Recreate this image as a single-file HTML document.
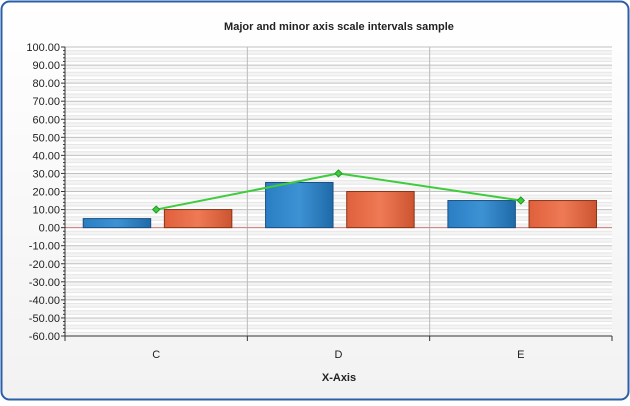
<!DOCTYPE html>
<html><head><style>
body{margin:0;background:#fff;font-family:"Liberation Sans",sans-serif}
</style></head><body>
<svg width="630" height="401" xmlns="http://www.w3.org/2000/svg">
<defs>
<linearGradient id="bg" x1="0" y1="0" x2="0" y2="1"><stop offset="0" stop-color="#fff"/><stop offset="1" stop-color="#f2f2f2"/></linearGradient>
<linearGradient id="gb" x1="0" y1="0" x2="1" y2="0"><stop offset="0" stop-color="#2a7fc4"/><stop offset="0.5" stop-color="#3d92d4"/><stop offset="1" stop-color="#1f6aa8"/></linearGradient>
<linearGradient id="go" x1="0" y1="0" x2="1" y2="0"><stop offset="0" stop-color="#e0603c"/><stop offset="0.5" stop-color="#ee7a55"/><stop offset="1" stop-color="#cc5530"/></linearGradient>
</defs>
<rect x="1.5" y="1.5" width="627" height="398" rx="8" fill="url(#bg)" stroke="#2b5fa8" stroke-width="2"/>
<text x="339" y="30" text-anchor="middle" font-size="11" font-weight="bold" fill="#222">Major and minor axis scale intervals sample</text>
<g id="plot"></g>
<text x="339" y="381" text-anchor="middle" font-size="11" font-weight="bold" fill="#222">X-Axis</text>
</svg>
<script>
const categories=["C","D","E"];
const series1=[5,25,15];
const series2=[10,20,15];
const lineValues=[10,30,15];
const yMin=-60,yMax=100,major=10,minor=2;
const L=65,R=612,T=47,B=336;
const NS="http://www.w3.org/2000/svg";
const g=document.getElementById('plot');
function y(v){return B-(v-yMin)/(yMax-yMin)*(B-T);}
const cw=(R-L)/categories.length;
function x(i){return L+cw*i;}
function el(t,a,p){const e=document.createElementNS(NS,t);for(const k in a)e.setAttribute(k,a[k]);(p||g).appendChild(e);return e;}
el('rect',{x:L,y:T,width:R-L,height:B-T,fill:'#fff'});
for(let v=yMin;v<yMax;v+=minor){
  const i=Math.round((v-yMin)/minor);
  if(i%2==0)el('rect',{x:L,y:y(v+minor),width:R-L,height:y(v)-y(v+minor),fill:'#f4f4f4'});
}
for(let v=yMin;v<=yMax;v+=minor){
  const isMaj=Math.round(v)%major==0;
  el('line',{x1:L,x2:R,y1:y(v),y2:y(v),stroke:isMaj?'#c0c0c0':'#e6e6e6','stroke-width':1});
  el('line',{x1:L-(isMaj?4:2),x2:L,y1:y(v),y2:y(v),stroke:'#333'});
  if(isMaj){const t=el('text',{x:L-5,y:y(v)+4,'text-anchor':'end','font-size':11,fill:'#222'});t.textContent=v.toFixed(2);
  
  }
}
for(let i=1;i<categories.length;i++)el('line',{x1:x(i),x2:x(i),y1:T,y2:B,stroke:'#bbb'});
el('line',{x1:L,x2:R,y1:y(0),y2:y(0),stroke:'#d08080'});
el('line',{x1:L,x2:L,y1:T,y2:B,stroke:'#333'});
el('line',{x1:L,x2:R,y1:B,y2:B,stroke:'#333'});
categories.forEach((c,i)=>{
  el('line',{x1:x(i),x2:x(i),y1:B,y2:B+5,stroke:'#333'});
  if(i==categories.length-1)el('line',{x1:x(i+1),x2:x(i+1),y1:B,y2:B+5,stroke:'#333'});
  const t=el('text',{x:x(i)+cw/2,y:B+22,'text-anchor':'middle','font-size':11,fill:'#222'});t.textContent=c;
  
  
  const bw=cw*0.37;
  const b1=el('rect',{x:x(i)+cw*0.1,y:y(series1[i]),width:bw,height:y(0)-y(series1[i]),fill:'url(#gb)',stroke:'#1a4f80'});
  
  
  const b2=el('rect',{x:x(i)+cw*0.545,y:y(series2[i]),width:bw,height:y(0)-y(series2[i]),fill:'url(#go)',stroke:'#8a3418'});
  
  
});
const pts=lineValues.map((v,i)=>[x(i)+cw/2,y(v)]);
const pl=el('polyline',{points:pts.map(p=>p.join(',')).join(' '),fill:'none',stroke:'#3ccc3c','stroke-width':2});


pts.forEach(p=>{const m=el('rect',{x:p[0]-2.5,y:p[1]-2.5,width:5,height:5,fill:'#3ccc3c',stroke:'#229922',transform:`rotate(45 ${p[0]} ${p[1]})`});

});
</script>
</body></html>
